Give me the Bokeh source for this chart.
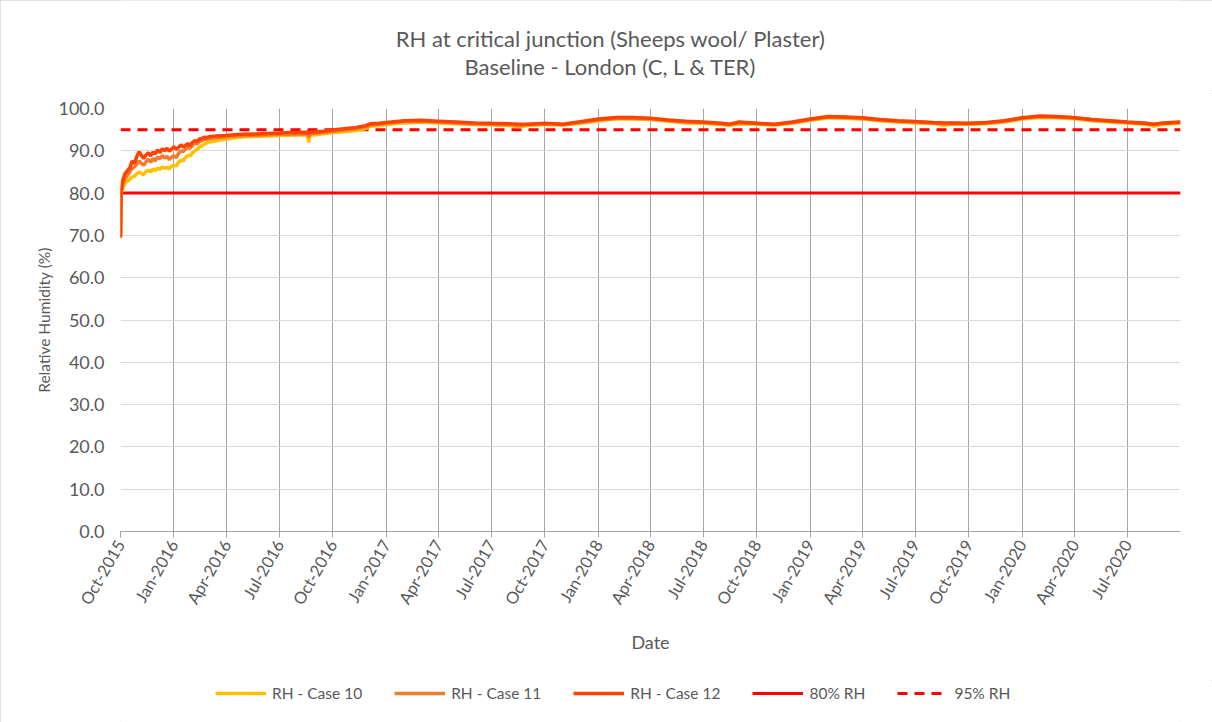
import math
import pandas as pd
from bokeh.plotting import figure
from bokeh.layouts import column
from bokeh.models import (Range1d, FixedTicker, DatetimeTickFormatter, Legend, LegendItem,
                          Label, NumeralTickFormatter)
from bokeh.embed import file_html
from bokeh.resources import INLINE

# ---------------- data ----------------
dates = [
    "2015-10-01", "2015-10-02", "2015-10-05", "2015-10-09", "2015-10-13", "2015-10-17",
    "2015-10-21", "2015-10-25", "2015-10-29", "2015-11-02", "2015-11-06", "2015-11-10",
    "2015-11-14", "2015-11-18", "2015-11-22", "2015-11-26", "2015-11-30", "2015-12-04",
    "2015-12-08", "2015-12-12", "2015-12-16", "2015-12-20", "2015-12-24", "2015-12-28",
    "2016-01-01", "2016-01-05", "2016-01-09", "2016-01-13", "2016-01-17", "2016-01-21",
    "2016-01-25", "2016-01-29", "2016-02-02", "2016-02-06", "2016-02-10", "2016-02-14",
    "2016-02-18", "2016-02-22", "2016-02-26", "2016-03-01",
    "2016-03-15", "2016-03-30", "2016-04-15", "2016-05-01", "2016-05-20",
    "2016-06-10", "2016-07-01", "2016-07-20", "2016-08-18", "2016-08-20", "2016-08-23",
    "2016-09-15", "2016-10-01", "2016-10-20", "2016-11-10", "2016-11-25", "2016-12-05",
    "2016-12-20", "2017-01-01", "2017-02-01", "2017-03-01", "2017-04-01", "2017-05-01",
    "2017-06-01", "2017-07-01", "2017-08-01", "2017-08-20", "2017-09-01", "2017-10-01",
    "2017-11-01", "2017-12-01", "2018-01-01", "2018-02-01", "2018-03-01", "2018-04-01",
    "2018-05-01", "2018-06-01", "2018-07-01", "2018-08-01", "2018-08-15", "2018-09-01",
    "2018-10-01", "2018-11-01", "2018-12-01", "2019-01-01", "2019-02-01", "2019-03-01",
    "2019-04-01", "2019-05-01", "2019-06-01", "2019-07-01", "2019-08-01", "2019-08-20",
    "2019-09-01", "2019-10-01", "2019-11-01", "2019-12-01", "2020-01-01", "2020-02-01",
    "2020-03-01", "2020-04-01", "2020-05-01", "2020-06-01", "2020-07-01", "2020-08-01",
    "2020-08-15", "2020-09-01", "2020-09-30",
]

rh_case10 = [
    69.5, 79.8, 81.2, 82.4, 82.8, 83.3, 83.8, 84.0, 84.5, 85.0, 84.6, 84.4,
    85.1, 85.4, 85.0, 85.7, 85.3, 85.9, 85.6, 86.2, 85.9, 86.1, 85.7, 86.4,
    86.6, 86.4, 87.3, 87.8, 87.6, 88.4, 88.9, 88.8, 89.5, 90.0, 90.3, 90.9,
    91.2, 91.6, 91.8, 92.1,
    92.4, 92.8, 93.1, 93.3, 93.4, 93.5, 93.6, 93.7, 93.8, 92.0, 93.7,
    94.0, 94.3, 94.5, 94.8, 95.2, 95.8, 96.0, 96.2, 96.6, 96.8, 96.6, 96.4,
    96.2, 96.1, 96.0, 95.7, 96.0, 96.2, 96.1, 96.5, 97.1, 97.5, 97.5, 97.4,
    97.0, 96.6, 96.5, 96.2, 96.0, 96.4, 96.3, 96.1, 96.5, 97.2, 97.8, 97.7,
    97.5, 97.1, 96.8, 96.6, 96.5, 96.0, 96.3, 96.3, 96.4, 96.8, 97.5, 97.9,
    97.8, 97.6, 97.1, 96.8, 96.6, 96.3, 95.8, 96.3, 96.5,
]

rh_case11 = [
    69.5, 80.2, 82.0, 83.4, 84.2, 85.0, 85.8, 86.2, 86.8, 87.6, 87.0, 86.6,
    87.4, 88.0, 87.3, 88.2, 87.6, 88.6, 88.1, 88.9, 88.3, 88.7, 87.9, 88.5,
    88.8, 88.4, 89.4, 90.0, 89.8, 90.4, 90.8, 90.6, 91.3, 91.8, 91.7, 92.2,
    92.4, 92.7, 92.7, 92.9,
    93.1, 93.3, 93.5, 93.6, 93.7, 93.8, 93.9, 94.0, 94.0, 93.2, 94.0,
    94.3, 94.6, 94.9, 95.2, 95.6, 96.1, 96.3, 96.5, 96.9, 97.0, 96.8, 96.6,
    96.4, 96.3, 96.2, 96.0, 96.2, 96.4, 96.2, 96.7, 97.3, 97.7, 97.7, 97.6,
    97.2, 96.8, 96.7, 96.4, 96.2, 96.6, 96.5, 96.2, 96.7, 97.4, 98.0, 97.9,
    97.7, 97.3, 97.0, 96.8, 96.6, 96.4, 96.5, 96.4, 96.6, 97.0, 97.7, 98.1,
    98.0, 97.8, 97.3, 97.0, 96.7, 96.5, 96.2, 96.5, 96.7,
]

rh_case12 = [
    69.5, 80.5, 83.0, 84.6, 85.3, 86.0, 87.6, 87.0, 88.6, 89.8, 88.9, 88.2,
    89.0, 89.5, 88.8, 89.7, 89.3, 90.2, 89.6, 90.5, 90.0, 90.6, 89.9, 90.4,
    91.0, 90.3, 90.8, 91.4, 90.9, 91.3, 91.7, 91.2, 92.0, 92.4, 92.2, 92.8,
    92.9, 93.2, 93.1, 93.3,
    93.5, 93.6, 93.8, 93.9, 94.0, 94.1, 94.2, 94.3, 94.4, 94.0, 94.4,
    94.6, 94.9, 95.2, 95.5, 95.9, 96.4, 96.5, 96.7, 97.1, 97.2, 97.0, 96.8,
    96.6, 96.5, 96.4, 96.3, 96.3, 96.5, 96.3, 96.9, 97.5, 97.9, 97.9, 97.7,
    97.3, 97.0, 96.8, 96.5, 96.3, 96.8, 96.5, 96.3, 96.8, 97.5, 98.1, 98.0,
    97.8, 97.4, 97.1, 96.9, 96.7, 96.6, 96.6, 96.5, 96.7, 97.1, 97.8, 98.2,
    98.1, 97.8, 97.4, 97.1, 96.8, 96.5, 96.3, 96.6, 96.8,
]

ref_dates = ["2015-10-01", "2020-09-30"]
rh_80 = [80.0, 80.0]
rh_95 = [95.0, 95.0]

tick_dates = [
    "2015-10-01", "2016-01-01", "2016-04-01", "2016-07-01", "2016-10-01",
    "2017-01-01", "2017-04-01", "2017-07-01", "2017-10-01", "2018-01-01",
    "2018-04-01", "2018-07-01", "2018-10-01", "2019-01-01", "2019-04-01",
    "2019-07-01", "2019-10-01", "2020-01-01", "2020-04-01", "2020-07-01",
]
y_ticks = [0, 10, 20, 30, 40, 50, 60, 70, 80, 90, 100]

title_lines = ["RH at critical junction (Sheeps wool/ Plaster)", "Baseline - London (C, L & TER)"]
series_names = ["RH - Case 10", "RH - Case 11", "RH - Case 12", "80% RH", "95% RH"]

# ---------------- styles ----------------
FONT = "Lato"
GREY = "#595959"
COLORS = ["#ffc000", "#ed7d31", "#ff4200", "#ff0000", "#ff0000"]


def strip(height):
    f = figure(width=1212, height=height, output_backend="svg", toolbar_location=None,
               x_range=Range1d(0, 1), y_range=Range1d(0, 1), title=None,
               min_border_left=0, min_border_right=0, min_border_top=0, min_border_bottom=0)
    f.axis.visible = False
    f.grid.visible = False
    f.outline_line_color = None
    f.border_fill_color = "white"
    return f


x = pd.to_datetime(dates)
xr = pd.to_datetime(ref_dates)
ticks_ms = [pd.Timestamp(d).value / 1e6 for d in tick_dates]

# ---------------- title strip ----------------
ts = strip(90)
for txt, yy in zip(title_lines, (52, 24)):
    ts.add_layout(Label(x=490, y=yy, x_units="screen", y_units="screen", text=txt,
                        text_align="center", text_baseline="middle",
                        text_font=FONT, text_font_size="22px", text_color=GREY))

# ---------------- main chart ----------------
p = figure(width=1212, height=590, x_axis_type="datetime",
           output_backend="svg", toolbar_location=None, title=None,
           x_range=Range1d(pd.Timestamp("2015-10-01"), pd.Timestamp("2020-09-30")),
           y_range=Range1d(0, 100),
           min_border_left=120, min_border_right=32, min_border_top=18, min_border_bottom=149)
p.outline_line_color = None
p.background_fill_color = "white"
p.border_fill_color = "white"

p.xaxis.ticker = FixedTicker(ticks=ticks_ms)
fmt = "%b-%Y"
p.xaxis.formatter = DatetimeTickFormatter(milliseconds=fmt, seconds=fmt, minsec=fmt, minutes=fmt,
                                          hourmin=fmt, hours=fmt, days=fmt, months=fmt, years=fmt)
p.xaxis.major_label_orientation = math.radians(60)
p.xaxis.major_tick_out = 6
p.xaxis.major_tick_in = 0
p.xaxis.minor_tick_line_color = None
p.xaxis.axis_line_color = "#a6a6a6"
p.xaxis.major_tick_line_color = "#a6a6a6"
p.xaxis.major_label_standoff = 4
p.xaxis.axis_label = "Date"
p.xaxis.axis_label_standoff = 15
p.xaxis.major_label_text_font_size = "16.5px"
p.xaxis.axis_label_text_font_size = "18px"

p.yaxis.ticker = FixedTicker(ticks=y_ticks)
p.yaxis.formatter = NumeralTickFormatter(format="0.0")
p.yaxis.axis_line_color = None
p.yaxis.major_tick_line_color = None
p.yaxis.minor_tick_line_color = None
p.yaxis.major_tick_out = 0
p.yaxis.major_tick_in = 0
p.yaxis.major_label_standoff = 16
p.yaxis.axis_label = "Relative Humidity (%)"
p.yaxis.axis_label_standoff = 2
p.yaxis.major_label_text_font_size = "18px"
p.yaxis.axis_label_text_font_size = "15.5px"

for ax in (p.xaxis, p.yaxis):
    ax.major_label_text_font = FONT
    ax.major_label_text_color = GREY
    ax.axis_label_text_font = FONT
    ax.axis_label_text_font_style = "normal"
    ax.axis_label_text_color = GREY

p.xgrid.grid_line_color = "#a6a6a6"
p.xgrid.grid_line_width = 1
p.ygrid.grid_line_color = "#d9d9d9"
p.ygrid.grid_line_width = 1

# reference lines (under the series)
p.line(xr, rh_80, line_color=COLORS[3], line_width=3)
p.line(xr, rh_95, line_color=COLORS[4], line_width=3, line_dash="10 7")

# series
p.line(x, rh_case10, line_color=COLORS[0], line_width=3.5)
p.line(x, rh_case11, line_color=COLORS[1], line_width=3.5)
p.line(x, rh_case12, line_color=COLORS[2], line_width=3.5)

# ---------------- legend strip ----------------
lg = strip(42)
leg_renderers = []
for i, name in enumerate(series_names):
    dash = "10 7" if i == 4 else "solid"
    width = 3 if i >= 3 else 3.5
    # sample glyphs only: their data lie outside the strip's range, so only the legend shows them
    leg_renderers.append(lg.line([5, 6], [5, 6], line_color=COLORS[i], line_width=width, line_dash=dash))

legend = Legend(items=[LegendItem(label=n, renderers=[r]) for n, r in zip(series_names, leg_renderers)],
                orientation="horizontal", location=(95, 20),
                label_text_font=FONT, label_text_font_size="15.5px", label_text_color=GREY,
                glyph_width=51, glyph_height=14, label_standoff=6, spacing=32,
                padding=4, margin=0, border_line_color=None, background_fill_alpha=0)
lg.add_layout(legend, "center")

layout = column(ts, p, lg, spacing=0)
layout.styles = {"outline": "1px solid #d9d9d9", "outline-offset": "-1px"}

open("out.html", "w").write(file_html(layout, INLINE))
